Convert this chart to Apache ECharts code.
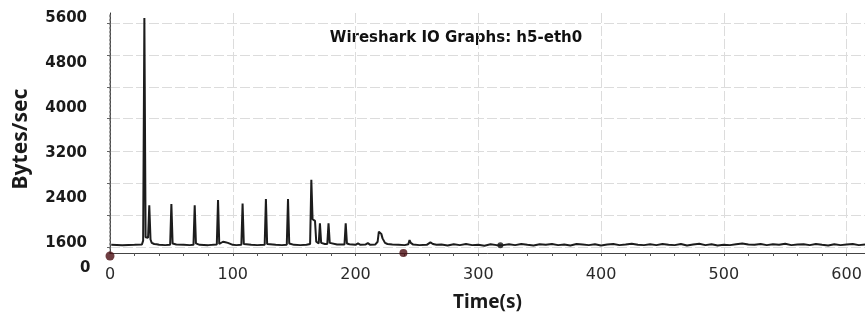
<!DOCTYPE html>
<html>
<head>
<meta charset="utf-8">
<script src="https://cdn.jsdelivr.net/npm/echarts@6/dist/echarts.min.js"></script>
<style>
html,body{margin:0;padding:0;background:#fff;}
#chart{width:865px;height:320px;}
</style>
</head>
<body>
<div id="chart"></div>
<script>
// ---- data ----
const titleText = 'Wireshark IO Graphs: h5-eth0';
const xName = 'Time(s)';
const yName = 'Bytes/sec';
const xLabelValues = [0, 100, 200, 300, 400, 500, 600];
const xGridValues = [100, 200, 300, 400, 500, 600];
const xMinorTickValues = [20,40,60,80,100,120,140,160,180,200,220,240,260,280,300,320,340,360,380,400,420,440,460,480,500,520,540,560,580,600];
const yLabelValues = [1600, 2400, 3200, 4000, 4800, 5600];
const yGridValues = [1527, 2096, 2664, 3233, 3820, 4371, 4940, 5509];
const times = [
  1,10,20,26,27,28,29,30,31,32,33,34,35,36,38,40,45,49,50,51,52,54,60,65,68,69,70,71,73,80,
  87,88,89,90,92,93,94,95,96,97,100,103,107,108,109,110,115,120,126,127,128,129,135,140,144,145,146,147,150,155,
  160,163,164,165,166,167,168,169,170,171,172,173,175,177,178,179,180,185,191,192,193,195,200,202,204,208,210,212,216,218,
  219,220,221,222,223,224,226,230,235,240,243,244,245,247,252,258,261,263,266,
  270,275,280,285,290,295,300,305,310,315,320,325,330,335,340,345,350,355,360,365,370,375,380,385,390,395,
  400,405,410,415,420,425,430,435,440,445,450,455,460,465,470,475,480,485,490,495,
  500,505,510,515,520,525,530,535,540,545,550,555,560,565,570,575,580,585,590,595,600,605,610,615
];
const bytes = [
  1565,1560,1565,1570,1640,5600,1700,1720,1690,2270,1660,1600,1620,1580,1575,1565,1560,1565,2290,1590,1575,1570,1565,1560,1565,2270,1590,1575,1565,1560,
  1570,2360,1580,1565,1620,1650,1610,1590,1600,1575,1565,1560,1565,2300,1580,1570,1565,1560,1565,2380,1580,1570,1565,1560,1565,2380,1590,1570,1565,1560,
  1565,1580,2720,2020,1990,1990,1620,1600,1590,1950,1600,1590,1580,1580,1950,1600,1585,1570,1570,1950,1590,1575,1565,1590,1565,1570,1595,1565,1570,1620,
  1800,1790,1760,1680,1680,1600,1580,1570,1565,1560,1575,1650,1600,1570,1560,1565,1610,1580,1565,
  1570,1555,1575,1560,1580,1560,1565,1550,1575,1560,1560,1575,1560,1580,1565,1555,1575,1565,1580,1560,1570,1555,1580,1570,1560,1575,
  1555,1570,1580,1560,1570,1585,1565,1560,1575,1560,1580,1565,1560,1580,1555,1570,1585,1560,1575,1555,
  1565,1560,1575,1590,1570,1565,1580,1560,1575,1565,1585,1560,1570,1575,1560,1580,1565,1555,1575,1560,1570,1580,1560,1570
];
const markerTimes = [0, 239, 318];
const markerBytes = [1367, 1420, 1560];

// ---- build ----
const seriesData = times.map((t, i) => [t, bytes[i]]);
const markerData = markerTimes.map((t, i) => [t, markerBytes[i]]);

const chart = echarts.init(document.getElementById('chart'), null, {renderer: 'canvas'});
const option = {
  backgroundColor: '#ffffff',
  animation: false,
  grid: {left: 110, right: 0, top: 13, bottom: 67, containLabel: false, outerBoundsMode: 'none'},
  xAxis: [{
    type: 'value', min: 0, max: 615,
    name: xName, nameLocation: 'middle', nameGap: 40,
    nameTextStyle: {fontFamily: 'Noto Sans', fontWeight: 'bold', fontSize: 19, color: '#1a1a1a'},
    axisLine: {show: true, onZero: false, lineStyle: {color: '#444', width: 1}},
    axisTick: {show: false, customValues: xGridValues},
    axisLabel: {customValues: xLabelValues, margin: 14, fontFamily: 'DejaVu Sans', fontSize: 16, color: '#2a2a2a',
      formatter: function (v) { return String(v); }},
    splitLine: {show: true, lineStyle: {color: '#dcdcdc', width: 1, type: [10, 3]}}
  }, {
    type: 'value', min: 0, max: 615, position: 'bottom',
    axisLine: {show: false},
    axisTick: {show: true, customValues: xMinorTickValues, length: 3, lineStyle: {color: '#555'}},
    axisLabel: {show: false},
    splitLine: {show: false}
  }],
  yAxis: [{
    type: 'value', min: 1420, max: 5687,
    axisLine: {show: true, lineStyle: {color: '#333', width: 1}},
    axisTick: {show: true, customValues: yGridValues, length: 3, lineStyle: {color: '#666'}},
    axisLabel: {customValues: yLabelValues, margin: 23, fontFamily: 'DejaVu Sans', fontWeight: 'bold', fontSize: 15, color: '#1a1a1a',
      formatter: function (v) { return String(v); }},
    splitLine: {show: true, lineStyle: {color: '#dcdcdc', width: 1, type: [10, 3]}}
  }, {
    type: 'value', min: 1420, max: 5687, position: 'left', offset: 6,
    axisLine: {show: true, lineStyle: {color: '#777', width: 1.5, type: [2, 2]}},
    axisTick: {show: false},
    axisLabel: {show: false},
    splitLine: {show: false}
  }],
  graphic: [
    {type: 'text', x: 456, y: 38, style: {text: titleText, x: 0, y: 0, align: 'center', verticalAlign: 'middle',
      fontFamily: 'DejaVu Sans', fontWeight: 'bold', fontSize: 15, fill: '#111'}},
    {type: 'text', x: 21, y: 139, rotation: Math.PI / 2, style: {text: yName, x: 0, y: 0, align: 'center', verticalAlign: 'middle',
      fontFamily: 'Noto Sans', fontWeight: 'bold', fontSize: 21, fill: '#1a1a1a'}},
    {type: 'text', left: 80, top: 261, style: {text: '0', fontFamily: 'DejaVu Sans', fontWeight: 'bold', fontSize: 15, fill: '#1a1a1a'}}
  ],
  series: [{
    type: 'line', xAxisIndex: 0, yAxisIndex: 0,
    data: seriesData, showSymbol: false, symbol: 'none',
    lineStyle: {color: '#1c1c1c', width: 2}
  }, {
    type: 'scatter', xAxisIndex: 0, yAxisIndex: 0, clip: false,
    data: markerData,
    symbol: 'circle',
    symbolSize: function (v, p) { return p.dataIndex === 0 ? 9 : (p.dataIndex === 1 ? 8 : 6); },
    itemStyle: {color: function (p) { return p.dataIndex === 2 ? '#111' : '#4a0c12'; }}
  }]
};
chart.setOption(option);
</script>
</body>
</html>
